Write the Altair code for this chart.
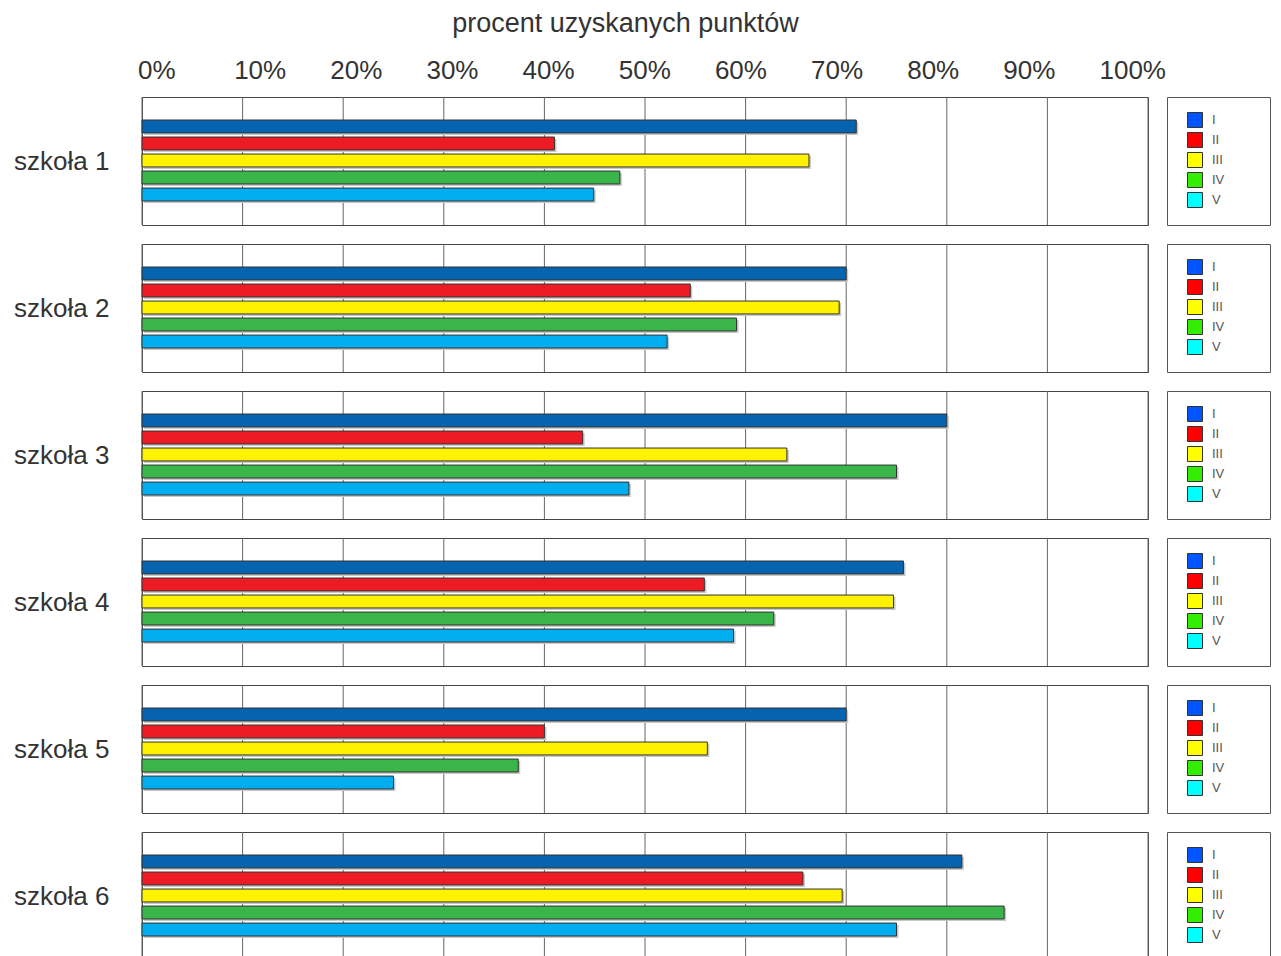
import altair as alt
import pandas as pd

FONT = "Liberation Sans"

schools = ["szkoła 1", "szkoła 2", "szkoła 3", "szkoła 4", "szkoła 5", "szkoła 6"]
series = ["I", "II", "III", "IV", "V"]
v_I = [71.0, 70.0, 80.0, 75.7, 70.0, 81.5]
v_II = [41.0, 54.5, 43.8, 55.9, 40.0, 65.7]
v_III = [66.3, 69.3, 64.1, 74.7, 56.2, 69.6]
v_IV = [47.5, 59.1, 75.0, 62.8, 37.4, 85.7]
v_V = [44.9, 52.2, 48.4, 58.8, 25.0, 75.0]
tick_values = [0, 10, 20, 30, 40, 50, 60, 70, 80, 90, 100]
bar_colors = ["#0563AF", "#ED1C24", "#FFF200", "#39B54A", "#00AEEF"]
legend_colors = ["#0055FF", "#FF0000", "#FFFF00", "#33EE00", "#00FFFF"]

PW, PH = 1006, 128
PAD = "\u2800" * 3

grid_df = pd.DataFrame({"t": tick_values})

rows = []
for i, school in enumerate(schools):
    df = pd.DataFrame({
        "seria": series,
        "wynik": [v_I[i], v_II[i], v_III[i], v_IV[i], v_V[i]],
    })
    base = alt.Chart(df)
    y_scale = alt.Scale(domain=series, range=[23, 104], paddingInner=0.24, paddingOuter=0)
    x_scale = alt.Scale(domain=[0, 100], nice=False, zero=True)
    y_axis = alt.Axis(title=school, titleAngle=0, titleAlign="right",
                      titleBaseline="middle", titleX=-33, titleY=PH / 2,
                      titleFont=FONT, titleFontSize=26,
                      titleFontWeight="normal", titleColor="#333333",
                      labels=False, ticks=False, domain=False, grid=False)

    grid = alt.Chart(grid_df).mark_rule(color="#666666", strokeWidth=1).encode(
        x=alt.X("t:Q", scale=x_scale, axis=None),
    )
    shadow = base.mark_bar(color="#c8c8c8", xOffset=2, yOffset=2).encode(
        x=alt.X("wynik:Q", scale=x_scale, axis=None),
        y=alt.Y("seria:N", sort=series, scale=y_scale, axis=y_axis),
    )
    bars = base.mark_bar(stroke="#333333", strokeWidth=1, opacity=1).encode(
        x=alt.X("wynik:Q", scale=x_scale, axis=None),
        y=alt.Y("seria:N", sort=series, scale=y_scale, axis=y_axis),
        fill=alt.Fill("seria:N", sort=series,
                      scale=alt.Scale(range=bar_colors), legend=None),
    )
    leg = base.transform_filter("false").mark_square(size=196, opacity=1).encode(
        color=alt.Color("seria:N", sort=series,
                        scale=alt.Scale(domain=series, range=legend_colors),
                        legend=alt.Legend(
                            title=None, orient="right", offset=19, padding=15,
                            strokeColor="#555555", fillColor="white",
                            symbolType="square", symbolSize=225, symbolOffset=5,
                            symbolStrokeColor="#333333", symbolStrokeWidth=1,
                            symbolOpacity=1, rowPadding=0, labelOffset=9,
                            labelFont=FONT, labelFontSize=13, labelColor="#555555",
                            labelLimit=400,
                            labelExpr="datum.label + '" + PAD + "'")),
    )
    if i == 0:
        lab = base.transform_filter("false").mark_point().encode(
            x=alt.X("wynik:Q",
                    scale=alt.Scale(domain=[-0.572, 104.06], nice=False, zero=False),
                    axis=alt.Axis(orient="top", values=tick_values,
                                  labelExpr="datum.value + '%'", labelAlign="left",
                                  labelOffset=-10, labelFlush=False, labelOverlap=False,
                                  labelFont=FONT, labelFontSize=26, labelColor="#333333",
                                  labelPadding=14, ticks=False, tickSize=0,
                                  domain=False, grid=False,
                                  title="procent uzyskanych punktów", titleFont=FONT,
                                  titleFontSize=27, titleFontWeight="normal",
                                  titleColor="#333333", titlePadding=20,
                                  titleX=483, titleAlign="center")),
        )
        row = alt.layer(grid, shadow, bars, lab, leg).resolve_scale(x="independent")
    else:
        row = alt.layer(grid, shadow, bars, leg)
    rows.append(row.properties(width=PW, height=PH))

chart = alt.vconcat(
    *rows, spacing=17, padding={"top": 0, "left": 5, "right": 0, "bottom": 5}
).resolve_scale(
    color="independent", fill="independent", x="independent", y="independent"
).resolve_legend(color="independent").configure_view(
    stroke="#444444", strokeWidth=1
)

chart.save("out.html", embed_options={"renderer": "svg", "actions": False})
